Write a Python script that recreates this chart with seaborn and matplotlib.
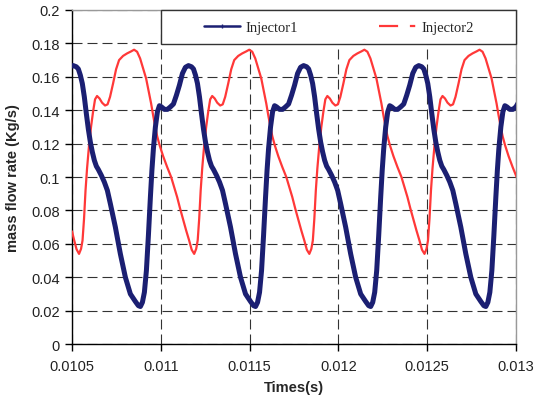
import matplotlib
matplotlib.use("Agg")
import matplotlib.pyplot as plt
from matplotlib.lines import Line2D
from matplotlib.patches import Rectangle
import pandas as pd
import seaborn as sns

# times in ms, flow in kg/s
# Injector1, one list per cycle (peak to peak)
inj1_t0 = [10.5000, 10.5073, 10.5242, 10.5355, 10.5468, 10.5580, 10.5693, 10.5806, 10.5919,
           10.6031, 10.6144, 10.6257, 10.6370, 10.6482, 10.6651, 10.6820, 10.6990, 10.7159,
           10.7441, 10.7722, 10.8004, 10.8286, 10.8568, 10.8737, 10.8850, 10.8963, 10.9075,
           10.9188, 10.9301, 10.9413, 10.9498, 10.9583, 10.9695, 10.9808, 10.9921, 11.0034,
           11.0203, 11.0372, 11.0541, 11.0710, 11.0879, 11.1048, 11.1217, 11.1386]
inj1_v0 = [0.1665, 0.1667, 0.1660, 0.1647, 0.1610, 0.1560, 0.1480, 0.1380, 0.1287,
           0.1210, 0.1150, 0.1100, 0.1065, 0.1045, 0.1010, 0.0970, 0.0920, 0.0840,
           0.0700, 0.0540, 0.0400, 0.0300, 0.0255, 0.0230, 0.0225, 0.0250, 0.0310,
           0.0440, 0.0650, 0.0880, 0.1040, 0.1170, 0.1300, 0.1390, 0.1427, 0.1420,
           0.1405, 0.1405, 0.1420, 0.1437, 0.1490, 0.1550, 0.1620, 0.1657]
inj1_t1 = [11.1556, 11.1725, 11.1838, 11.1951, 11.2063, 11.2176, 11.2289, 11.2402, 11.2514,
           11.2627, 11.2740, 11.2853, 11.2965, 11.3134, 11.3303, 11.3473, 11.3642, 11.3924,
           11.4205, 11.4487, 11.4769, 11.5051, 11.5220, 11.5333, 11.5446, 11.5558, 11.5671,
           11.5784, 11.5896, 11.5981, 11.6066, 11.6178, 11.6291, 11.6404, 11.6517, 11.6686,
           11.6855, 11.7024, 11.7193, 11.7362, 11.7531, 11.7700, 11.7869]
inj1_v1 = [0.1667, 0.1660, 0.1647, 0.1610, 0.1560, 0.1480, 0.1380, 0.1287, 0.1210,
           0.1150, 0.1100, 0.1065, 0.1045, 0.1010, 0.0970, 0.0920, 0.0840, 0.0700,
           0.0540, 0.0400, 0.0300, 0.0255, 0.0230, 0.0225, 0.0250, 0.0310, 0.0440,
           0.0650, 0.0880, 0.1040, 0.1170, 0.1300, 0.1390, 0.1427, 0.1420, 0.1405,
           0.1405, 0.1420, 0.1437, 0.1490, 0.1550, 0.1620, 0.1657]
inj1_t2 = [11.8039, 11.8208, 11.8321, 11.8434, 11.8546, 11.8659, 11.8772, 11.8885, 11.8997,
           11.9110, 11.9223, 11.9336, 11.9448, 11.9617, 11.9786, 11.9956, 12.0125, 12.0407,
           12.0688, 12.0970, 12.1252, 12.1534, 12.1703, 12.1816, 12.1929, 12.2041, 12.2154,
           12.2267, 12.2379, 12.2464, 12.2549, 12.2661, 12.2774, 12.2887, 12.3000, 12.3169,
           12.3338, 12.3507, 12.3676, 12.3845, 12.4014, 12.4183, 12.4352]
inj1_v2 = [0.1667, 0.1660, 0.1647, 0.1610, 0.1560, 0.1480, 0.1380, 0.1287, 0.1210,
           0.1150, 0.1100, 0.1065, 0.1045, 0.1010, 0.0970, 0.0920, 0.0840, 0.0700,
           0.0540, 0.0400, 0.0300, 0.0255, 0.0230, 0.0225, 0.0250, 0.0310, 0.0440,
           0.0650, 0.0880, 0.1040, 0.1170, 0.1300, 0.1390, 0.1427, 0.1420, 0.1405,
           0.1405, 0.1420, 0.1437, 0.1490, 0.1550, 0.1620, 0.1657]
inj1_t3 = [12.4522, 12.4691, 12.4804, 12.4917, 12.5029, 12.5142, 12.5255, 12.5368, 12.5480,
           12.5593, 12.5706, 12.5819, 12.5931, 12.6100, 12.6269, 12.6439, 12.6608, 12.6890,
           12.7171, 12.7453, 12.7735, 12.8017, 12.8186, 12.8299, 12.8412, 12.8524, 12.8637,
           12.8750, 12.8862, 12.8947, 12.9032, 12.9144, 12.9257, 12.9370, 12.9483, 12.9652,
           12.9821, 12.9990, 13.0159]
inj1_v3 = [0.1667, 0.1660, 0.1647, 0.1610, 0.1560, 0.1480, 0.1380, 0.1287, 0.1210,
           0.1150, 0.1100, 0.1065, 0.1045, 0.1010, 0.0970, 0.0920, 0.0840, 0.0700,
           0.0540, 0.0400, 0.0300, 0.0255, 0.0230, 0.0225, 0.0250, 0.0310, 0.0440,
           0.0650, 0.0880, 0.1040, 0.1170, 0.1300, 0.1390, 0.1427, 0.1420, 0.1405,
           0.1405, 0.1420, 0.1450]

# Injector2, one list per cycle (trough to trough)
inj2_t0 = [10.5000, 10.5113, 10.5254,
           10.5395, 10.5508, 10.5592, 10.5677, 10.5761, 10.5846, 10.5959, 10.6071, 10.6184,
           10.6297, 10.6410, 10.6551, 10.6692, 10.6861, 10.7002, 10.7142, 10.7312, 10.7481,
           10.7650, 10.7875, 10.8101, 10.8326, 10.8495, 10.8664, 10.8834, 10.9003, 10.9172,
           10.9341, 10.9454, 10.9566, 10.9679, 10.9792, 10.9933, 11.0130, 11.0356, 11.0581,
           11.0750, 11.0919, 11.1088, 11.1257, 11.1427, 11.1596, 11.1737]
inj2_v0 = [0.0675, 0.0625, 0.0568,
           0.0540, 0.0570, 0.0620, 0.0750, 0.0920, 0.1050, 0.1190, 0.1300, 0.1390,
           0.1465, 0.1485, 0.1470, 0.1445, 0.1428, 0.1435, 0.1480, 0.1560, 0.1645,
           0.1700, 0.1725, 0.1740, 0.1752, 0.1762, 0.1750, 0.1710, 0.1650, 0.1590,
           0.1500, 0.1440, 0.1370, 0.1305, 0.1245, 0.1190, 0.1125, 0.1060, 0.1000,
           0.0940, 0.0880, 0.0810, 0.0745, 0.0680, 0.0620, 0.0565]
inj2_t1 = [11.1878, 11.1991, 11.2075, 11.2160, 11.2244, 11.2329, 11.2442, 11.2554, 11.2667,
           11.2780, 11.2893, 11.3034, 11.3175, 11.3344, 11.3485, 11.3625, 11.3795, 11.3964,
           11.4133, 11.4358, 11.4584, 11.4809, 11.4978, 11.5147, 11.5317, 11.5486, 11.5655,
           11.5824, 11.5937, 11.6049, 11.6162, 11.6275, 11.6416, 11.6613, 11.6839, 11.7064,
           11.7233, 11.7402, 11.7571, 11.7740, 11.7910, 11.8079, 11.8220]
inj2_v1 = [0.0540, 0.0570, 0.0620, 0.0750, 0.0920, 0.1050, 0.1190, 0.1300, 0.1390,
           0.1465, 0.1485, 0.1470, 0.1445, 0.1428, 0.1435, 0.1480, 0.1560, 0.1645,
           0.1700, 0.1725, 0.1740, 0.1752, 0.1762, 0.1750, 0.1710, 0.1650, 0.1590,
           0.1500, 0.1440, 0.1370, 0.1305, 0.1245, 0.1190, 0.1125, 0.1060, 0.1000,
           0.0940, 0.0880, 0.0810, 0.0745, 0.0680, 0.0620, 0.0565]
inj2_t2 = [11.8361, 11.8474, 11.8558, 11.8643, 11.8727, 11.8812, 11.8925, 11.9037, 11.9150,
           11.9263, 11.9376, 11.9517, 11.9658, 11.9827, 11.9968, 12.0108, 12.0278, 12.0447,
           12.0616, 12.0841, 12.1067, 12.1292, 12.1461, 12.1630, 12.1800, 12.1969, 12.2138,
           12.2307, 12.2420, 12.2532, 12.2645, 12.2758, 12.2899, 12.3096, 12.3322, 12.3547,
           12.3716, 12.3885, 12.4054, 12.4223, 12.4393, 12.4562, 12.4703]
inj2_v2 = [0.0540, 0.0570, 0.0620, 0.0750, 0.0920, 0.1050, 0.1190, 0.1300, 0.1390,
           0.1465, 0.1485, 0.1470, 0.1445, 0.1428, 0.1435, 0.1480, 0.1560, 0.1645,
           0.1700, 0.1725, 0.1740, 0.1752, 0.1762, 0.1750, 0.1710, 0.1650, 0.1590,
           0.1500, 0.1440, 0.1370, 0.1305, 0.1245, 0.1190, 0.1125, 0.1060, 0.1000,
           0.0940, 0.0880, 0.0810, 0.0745, 0.0680, 0.0620, 0.0565]
inj2_t3 = [12.4844, 12.4957, 12.5041, 12.5126, 12.5210, 12.5295, 12.5408, 12.5520, 12.5633,
           12.5746, 12.5859, 12.6000, 12.6141, 12.6310, 12.6451, 12.6591, 12.6761, 12.6930,
           12.7099, 12.7324, 12.7550, 12.7775, 12.7944, 12.8113, 12.8283, 12.8452, 12.8621,
           12.8790, 12.8903, 12.9015, 12.9128, 12.9241, 12.9382, 12.9579, 12.9805, 13.0030]
inj2_v3 = [0.0540, 0.0570, 0.0620, 0.0750, 0.0920, 0.1050, 0.1190, 0.1300, 0.1390,
           0.1465, 0.1485, 0.1470, 0.1445, 0.1428, 0.1435, 0.1480, 0.1560, 0.1645,
           0.1700, 0.1725, 0.1740, 0.1752, 0.1762, 0.1750, 0.1710, 0.1650, 0.1590,
           0.1500, 0.1440, 0.1370, 0.1305, 0.1245, 0.1190, 0.1125, 0.1060, 0.1000]

series_names = ['Injector1', 'Injector2']
x_ticks = [0.0105, 0.011, 0.0115, 0.012, 0.0125, 0.013]
x_tick_labels = ['0.0105', '0.011', '0.0115', '0.012', '0.0125', '0.013']
y_ticks = [0, 0.02, 0.04, 0.06, 0.08, 0.1, 0.12, 0.14, 0.16, 0.18, 0.2]
y_tick_labels = ['0', '0.02', '0.04', '0.06', '0.08', '0.1', '0.12', '0.14', '0.16', '0.18', '0.2']

NAVY = '#1b1f72'
RED = '#ff3838'

sns.set_style('white')
plt.rcParams['font.family'] = ['Liberation Sans', 'DejaVu Sans']

t1 = inj1_t0 + inj1_t1 + inj1_t2 + inj1_t3
v1 = inj1_v0 + inj1_v1 + inj1_v2 + inj1_v3
t2 = inj2_t0 + inj2_t1 + inj2_t2 + inj2_t3
v2 = inj2_v0 + inj2_v1 + inj2_v2 + inj2_v3
df1 = pd.DataFrame({'time': [t / 1000 for t in t1], 'flow': v1, 'series': series_names[0]})
df2 = pd.DataFrame({'time': [t / 1000 for t in t2], 'flow': v2, 'series': series_names[1]})

fig = plt.figure(figsize=(5.35, 4.06), dpi=100)
ax = fig.add_axes([0.1346, 0.150, 0.830, 0.823])

# red first so the navy curve sits on top, as in the original
sns.lineplot(data=df2, x='time', y='flow', color=RED, lw=1.6, sort=False,
             estimator=None, legend=False, ax=ax, zorder=3)
sns.lineplot(data=df1, x='time', y='flow', color=NAVY, lw=3.6, sort=False,
             estimator=None, legend=False, ax=ax, zorder=4)

ax.set_xlim(0.0105, 0.013)
ax.set_ylim(0, 0.2)
ax.set_xticks(x_ticks)
ax.set_xticklabels(x_tick_labels)
ax.set_yticks(y_ticks)
ax.set_yticklabels(y_tick_labels)
ax.tick_params(axis='both', direction='out', length=5, width=1, color='black',
               labelsize=10.5, labelcolor='#222222')
ax.tick_params(axis='x', bottom=True, pad=6)
ax.tick_params(axis='y', left=True, pad=4)

ax.grid(True, color='#333333', lw=0.8, linestyle=(0, (9, 4.5)))
ax.set_axisbelow(True)

for side in ['left', 'bottom']:
    ax.spines[side].set_color('black')
    ax.spines[side].set_linewidth(1.0)
for side in ['top', 'right']:
    ax.spines[side].set_color('#999999')
    ax.spines[side].set_linewidth(1.0)

ax.set_xlabel('Times(s)', fontsize=10.5, fontweight='bold', labelpad=5)
ax.set_ylabel('mass flow rate (Kg/s)', fontsize=10.5, fontweight='bold', labelpad=8)

# legend box spans from the 0.011 gridline to the right edge, down to 0.18
bx, by, bw, bh = 0.2005, 0.898, 0.7995, 0.102
ax.add_patch(Rectangle((bx, by), bw, bh, transform=ax.transAxes, facecolor='white',
                       edgecolor='#333333', lw=1.0, zorder=6, clip_on=False))
handles = [Line2D([], [], color=NAVY, lw=1.8, marker='|', markersize=3, mew=1),
           Line2D([], [], color=RED, lw=1.6, linestyle=(0, (8.6, 5.3, 2.4, 10)))]
leg = ax.legend(handles, series_names, loc='center', bbox_to_anchor=(bx + bw / 2, by + bh / 2),
                bbox_transform=ax.transAxes, frameon=False, ncol=2, handlelength=2.5,
                handletextpad=0.35, columnspacing=5.6,
                prop={'family': ['Liberation Serif', 'DejaVu Serif'], 'size': 10.5})
leg.set_zorder(7)

fig.savefig('out.png', dpi=100)
